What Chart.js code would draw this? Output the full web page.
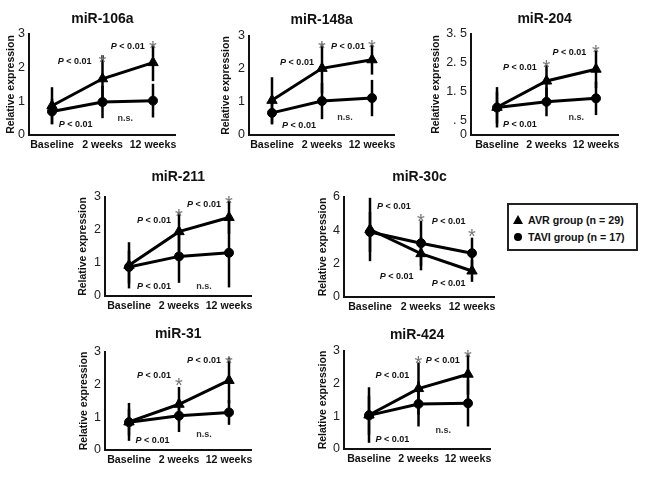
<!DOCTYPE html>
<html>
<head>
<meta charset="utf-8">
<script src="https://cdn.jsdelivr.net/npm/chart.js@4.4.0/dist/chart.umd.min.js"></script>
<style>
  html, body { margin: 0; padding: 0; background: #fff; }
  body { width: 658px; height: 480px; position: relative; overflow: hidden; font-family: "Liberation Sans", Arial, Helvetica, sans-serif; }
  .panel { position: absolute; }
  #legend { position: absolute; left: 507px; top: 203px; width: 131px; height: 48px; box-sizing: border-box; border: 2px solid #222; background: #fff; }
  #legend .mk { position: absolute; }
  #legend .tri { width: 0; height: 0; border-left: 5px solid transparent; border-right: 5px solid transparent; border-bottom: 9px solid #000; }
  #legend .dot { width: 8px; height: 8px; border-radius: 50%; background: #000; }
  #legend .lt { position: absolute; left: 19px; font-weight: bold; font-size: 10.7px; line-height: 14px; color: #111; white-space: nowrap; }
</style>
</head>
<body>
<div id="legend">
  <div class="mk tri" style="left:4px; top:10px;"></div>
  <div class="lt" style="top:8px;">AVR group (n = 29)</div>
  <div class="mk dot" style="left:5px; top:28px;"></div>
  <div class="lt" style="top:25px;">TAVI group (n = 17)</div>
</div>
<script>
// ---------------- DATA ----------------
const categories = ['Baseline', '2 weeks', '12 weeks'];
const avrLabel = 'AVR group (n = 29)';
const taviLabel = 'TAVI group (n = 17)';

const yTicks3 = [0, 1, 2, 3];
const yTicks3Labels = ['0', '1', '2', '3'];
const yTicks204 = [0, 0.5, 1.5, 2.5, 3.5];
const yTicks204Labels = ['0', '. 5', '1. 5', '2. 5', '3. 5'];
const yTicks30c = [0, 2, 4, 6];
const yTicks30cLabels = ['0', '2', '4', '6'];

// miR-106a
const avr106a = [0.87, 1.67, 2.15];
const avr106aSd = [0.55, 0.70, 0.55];
const tavi106a = [0.70, 0.98, 1.02];
const tavi106aSd = [0.38, 0.48, 0.50];
// miR-148a
const avr148a = [1.05, 2.02, 2.28];
const avr148aSd = [0.70, 0.75, 0.45];
const tavi148a = [0.67, 1.03, 1.12];
const tavi148aSd = [0.35, 0.55, 0.55];
// miR-204
const avr204 = [0.96, 1.87, 2.28];
const avr204Sd = [0.70, 0.55, 0.65];
const tavi204 = [0.95, 1.15, 1.27];
const tavi204Sd = [0.55, 0.50, 0.58];
// miR-211
const avr211 = [0.93, 1.95, 2.38];
const avr211Sd = [0.70, 0.60, 0.50];
const tavi211 = [0.88, 1.20, 1.31];
const tavi211Sd = [0.50, 0.80, 1.05];
// miR-30c
const avr30c = [4.05, 2.60, 1.56];
const avr30cSd = [1.90, 1.00, 0.65];
const tavi30c = [3.90, 3.23, 2.63];
const tavi30cSd = [1.20, 1.35, 0.93];
// miR-31
const avr31 = [0.86, 1.40, 2.13];
const avr31Sd = [0.58, 0.53, 0.70];
const tavi31 = [0.85, 1.05, 1.15];
const tavi31Sd = [0.40, 0.50, 0.38];
// miR-424
const avr424 = [1.04, 1.85, 2.29];
const avr424Sd = [0.85, 0.80, 0.63];
const tavi424 = [1.03, 1.38, 1.40];
const tavi424Sd = [0.60, 0.69, 0.71];

// Annotation anchors in data coordinates [categoryIndex, value]
const pLabels106a = [[0.45, 2.17], [1.5, 2.64], [0.47, 0.30]];
const pLabels148a = [[0.5, 2.2], [1.52, 2.67], [0.54, 0.30]];
const pLabels204 = [[0.46, 2.35], [1.46, 2.87], [0.46, 0.35]];
const pLabels211 = [[0.5, 2.3], [1.5, 2.78], [0.5, 0.28]];
const pLabels30c = [[0.47, 5.43], [1.54, 4.53], [0.52, 1.24], [1.54, 0.80]];
const pLabels31 = [[0.5, 2.29], [1.5, 2.74], [0.47, 0.30]];
const pLabels424 = [[0.47, 2.26], [1.49, 2.71], [0.47, 0.28]];

const stars106a = [[1, 2.30], [2, 2.72]];
const stars148a = [[1, 2.79], [2, 2.82]];
const stars204 = [[1, 2.53], [2, 3.05]];
const stars211 = [[1, 2.57], [2, 2.97]];
const stars30c = [[1, 4.85], [2, 3.93]];
const stars31 = [[1, 2.13], [2, 2.80]];
const stars424 = [[1, 2.77], [2, 2.97]];

const ns106a = [[1.45, 0.50]];
const ns148a = [[1.46, 0.52]];
const ns204 = [[1.6, 0.59]];
const ns211 = [[1.5, 0.28]];
const ns30c = [];
const ns31 = [[1.5, 0.46]];
const ns424 = [[1.5, 0.57]];

// ---------------- LAYOUT ----------------
const FONT = '"Liberation Sans", Arial, Helvetica, sans-serif';
const XH = 24, TITLE_SIZE = 14, TLH = TITLE_SIZE * 1.2, XMAX = 2.45;

const panels = [
  { name: 'miR-106a', avr: avr106a, avrSd: avr106aSd, tavi: tavi106a, taviSd: tavi106aSd, ymax: 3, yt: yTicks3, ytl: yTicks3Labels, p: pLabels106a, st: stars106a, ns: ns106a,
    g: { axisX: 29, cat0: 52, cat2: 153, top: 34, bottom: 135, titleY: 19, ytOff: 18 } },
  { name: 'miR-148a', avr: avr148a, avrSd: avr148aSd, tavi: tavi148a, taviSd: tavi148aSd, ymax: 3, yt: yTicks3, ytl: yTicks3Labels, p: pLabels148a, st: stars148a, ns: ns148a,
    g: { axisX: 249, cat0: 272, cat2: 372, top: 36, bottom: 135, titleY: 20, ytOff: 22.5 } },
  { name: 'miR-204', avr: avr204, avrSd: avr204Sd, tavi: tavi204, taviSd: tavi204Sd, ymax: 3.5, yt: yTicks204, ytl: yTicks204Labels, p: pLabels204, st: stars204, ns: ns204,
    g: { axisX: 471, cat0: 497, cat2: 596, top: 34, bottom: 135, titleY: 19, ytOff: 35 } },
  { name: 'miR-211', avr: avr211, avrSd: avr211Sd, tavi: tavi211, taviSd: tavi211Sd, ymax: 3, yt: yTicks3, ytl: yTicks3Labels, p: pLabels211, st: stars211, ns: ns211,
    g: { axisX: 105, cat0: 129, cat2: 229, top: 197, bottom: 296, titleY: 177, ytOff: 21.5 } },
  { name: 'miR-30c', avr: avr30c, avrSd: avr30cSd, tavi: tavi30c, taviSd: tavi30cSd, ymax: 6, yt: yTicks30c, ytl: yTicks30cLabels, p: pLabels30c, st: stars30c, ns: ns30c,
    g: { axisX: 344, cat0: 370, cat2: 472, top: 197, bottom: 297, titleY: 177, ytOff: 20.5 } },
  { name: 'miR-31', avr: avr31, avrSd: avr31Sd, tavi: tavi31, taviSd: tavi31Sd, ymax: 3, yt: yTicks3, ytl: yTicks3Labels, p: pLabels31, st: stars31, ns: ns31,
    g: { axisX: 105, cat0: 129, cat2: 229, top: 352, bottom: 450, titleY: 334, ytOff: 21 } },
  { name: 'miR-424', avr: avr424, avrSd: avr424Sd, tavi: tavi424, taviSd: tavi424Sd, ymax: 3, yt: yTicks3, ytl: yTicks3Labels, p: pLabels424, st: stars424, ns: ns424,
    g: { axisX: 344, cat0: 369, cat2: 468, top: 351, bottom: 449, titleY: 335, ytOff: 20.5 } }
];

// ---------------- PLUGIN: error bars + annotations ----------------
const annoPlugin = {
  id: 'anno',
  beforeDatasetsDraw(chart) {
    const { ctx } = chart;
    const xs = chart.scales.x, ys = chart.scales.y;
    ctx.save();
    ctx.strokeStyle = '#000';
    ctx.lineWidth = 2.5;
    chart.data.datasets.forEach(ds => {
      ds.data.forEach((pt, i) => {
        const sd = ds.sd[i];
        const px = xs.getPixelForValue(pt.x);
        ctx.beginPath();
        ctx.moveTo(px, ys.getPixelForValue(pt.y - sd));
        ctx.lineTo(px, ys.getPixelForValue(pt.y + sd));
        ctx.stroke();
      });
    });
    ctx.restore();
  },
  afterDatasetsDraw(chart, args, opts) {
    const { ctx } = chart;
    const xs = chart.scales.x, ys = chart.scales.y;
    ctx.save();
    const PS = 9;
    (opts.p || []).forEach(([xi, yv]) => {
      const cx = xs.getPixelForValue(xi), cy = ys.getPixelForValue(yv);
      const f1 = 'italic bold ' + PS + 'px ' + FONT, f2 = 'bold ' + PS + 'px ' + FONT;
      const rest = ' < 0.01';
      ctx.font = f1; const w1 = ctx.measureText('P').width;
      ctx.font = f2; const w2 = ctx.measureText(rest).width;
      const x0 = cx - (w1 + w2) / 2;
      ctx.fillStyle = '#111';
      ctx.textBaseline = 'middle'; ctx.textAlign = 'left';
      ctx.font = f1; ctx.fillText('P', x0, cy);
      ctx.font = f2; ctx.fillText(rest, x0 + w1, cy);
    });
    (opts.ns || []).forEach(([xi, yv]) => {
      ctx.font = 'bold 9px ' + FONT;
      ctx.fillStyle = '#333';
      ctx.textAlign = 'center'; ctx.textBaseline = 'middle';
      ctx.fillText('n.s.', xs.getPixelForValue(xi), ys.getPixelForValue(yv));
    });
    (opts.st || []).forEach(([xi, yv]) => {
      const size = 20;
      ctx.font = size + 'px ' + FONT;
      ctx.fillStyle = '#777';
      ctx.textAlign = 'center'; ctx.textBaseline = 'alphabetic';
      ctx.fillText('*', xs.getPixelForValue(xi), ys.getPixelForValue(yv) + size * 0.58);
    });
    ctx.restore();
  }
};

// ---------------- BUILD ----------------
panels.forEach((pn) => {
  const g = pn.g;
  const YW = g.ytOff + 9.3;
  const s = (g.cat2 - g.cat0) / 2;
  const xmin = -(g.cat0 - g.axisX) / s;
  const plotRight = g.cat0 + XMAX * s;
  const left = Math.floor(g.axisX - YW);
  const lpad = (g.axisX - YW) - left;
  const top = Math.round(g.titleY - TLH / 2);
  const W = Math.ceil(plotRight - left + 30);
  const H = Math.ceil(g.bottom - top + XH);
  const rpad = W - (plotRight - left);
  const bpad = H - (g.bottom - top) - XH;
  const tpadBottom = g.top - top - TLH;

  const div = document.createElement('div');
  div.className = 'panel';
  div.style.left = left + 'px';
  div.style.top = top + 'px';
  div.style.width = W + 'px';
  div.style.height = H + 'px';
  const cv = document.createElement('canvas');
  cv.width = W; cv.height = H;
  cv.style.width = W + 'px'; cv.style.height = H + 'px';
  div.appendChild(cv);
  document.body.appendChild(div);

  new Chart(cv.getContext('2d'), {
    type: 'line',
    data: {
      datasets: [
        { label: avrLabel, data: pn.avr.map((v, i) => ({ x: i, y: v })), sd: pn.avrSd,
          borderColor: '#000', backgroundColor: '#000', borderWidth: 3, pointStyle: 'triangle',
          pointRadius: 6, pointBorderWidth: 1, tension: 0, clip: false },
        { label: taviLabel, data: pn.tavi.map((v, i) => ({ x: i, y: v })), sd: pn.taviSd,
          borderColor: '#000', backgroundColor: '#000', borderWidth: 3, pointStyle: 'circle',
          pointRadius: 4.5, pointBorderWidth: 1, tension: 0, clip: false }
      ]
    },
    options: {
      responsive: false,
      animation: false,
      devicePixelRatio: 1,
      events: [],
      layout: { padding: { left: lpad, right: rpad, top: 0, bottom: bpad } },
      plugins: {
        legend: { display: false },
        tooltip: { enabled: false },
        title: {
          display: true, text: pn.name, fullSize: false, color: '#111',
          font: { family: FONT, size: TITLE_SIZE, weight: 'bold', lineHeight: 1.2 },
          padding: { top: 0, bottom: tpadBottom }
        },
        anno: { p: pn.p, st: pn.st, ns: pn.ns }
      },
      scales: {
        x: {
          type: 'linear', min: xmin, max: XMAX,
          afterBuildTicks: sc => { sc.ticks = categories.map((c, i) => ({ value: i })); },
          afterFit: sc => { sc.height = XH; },
          ticks: { callback: v => categories[v], autoSkip: false, maxRotation: 0, padding: 4,
                   color: '#111', font: { family: FONT, size: 10.6, weight: 'bold' } },
          grid: { display: false, drawTicks: false },
          border: { display: true, color: '#111', width: 2 }
        },
        y: {
          min: 0, max: pn.ymax,
          afterBuildTicks: sc => { sc.ticks = pn.yt.map(v => ({ value: v })); },
          afterFit: sc => { sc.width = YW; },
          ticks: { callback: (v) => pn.ytl[pn.yt.indexOf(v)], padding: 4, color: '#222',
                   font: { family: FONT, size: 12.5 } },
          title: { display: true, text: 'Relative expression', color: '#111',
                   font: { family: FONT, size: 10.5, weight: 'bold' }, padding: { top: 3, bottom: 0 } },
          grid: { display: false, drawTicks: false },
          border: { display: true, color: '#111', width: 2 }
        }
      }
    },
    plugins: [annoPlugin]
  });
});
</script>
</body>
</html>
